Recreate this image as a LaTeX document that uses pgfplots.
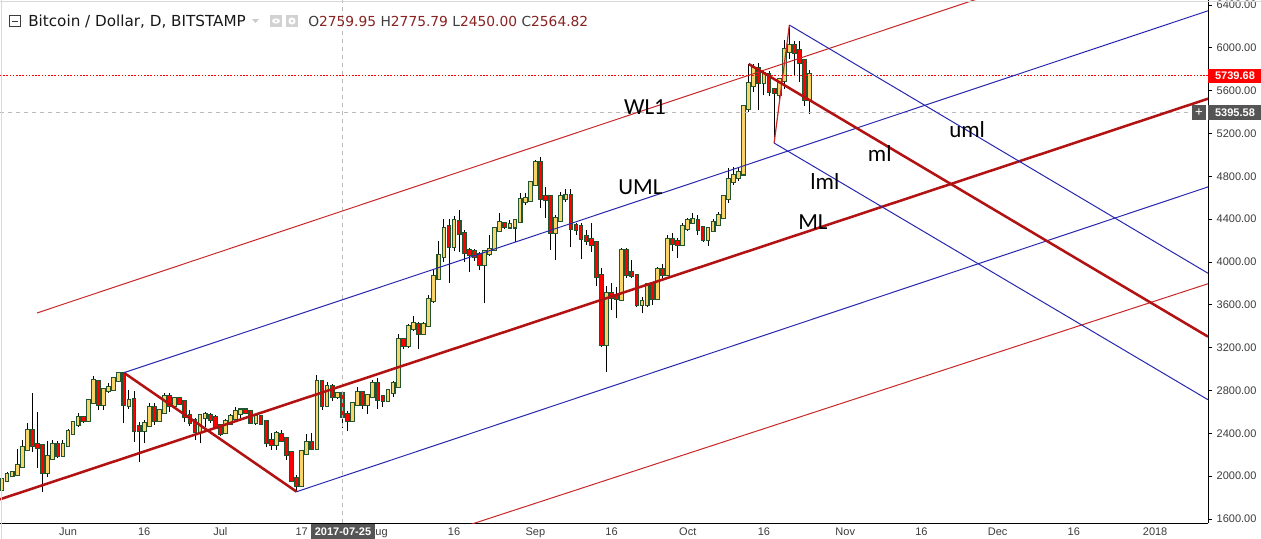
\documentclass[border=0pt]{standalone}
\usepackage{fontspec}
\usepackage{pgfplots}
\usepackage{pgfplotstable}
\pgfplotsset{compat=1.18}
\setmainfont{Liberation Sans}
\newfontfamily\tvfont{DejaVu Sans}
\newfontfamily\lblfont{Liberation Sans}
\newfontfamily\notefont{Carlito}
\definecolor{cup}{RGB}{248,212,105}
\definecolor{cdn}{RGB}{255,0,0}
\definecolor{cedge}{RGB}{34,84,48}
\definecolor{pfred}{RGB}{178,18,18}
\definecolor{pfthin}{RGB}{200,40,40}
\definecolor{pfblue}{RGB}{40,40,175}
\definecolor{txtgray}{RGB}{60,60,60}
\definecolor{ohlcred}{RGB}{139,35,35}
\definecolor{boxgray}{RGB}{85,85,85}
\definecolor{framegray}{RGB}{216,216,220}

\pgfplotstableread{
d o h l c
-13 1886 1985 1870 1964
-12 1964 2040 1950 2011
-11 2011 2040 1990 2025
-10 2020 2251 2000 2095
-9 2095 2338 2080 2260
-8 2260 2494 2250 2422
-4 2042 2330 1990 2176
-3 2176 2340 2150 2291
-1 2204 2335 2190 2291
0 2291 2440 2280 2406
1 2406 2505 2390 2494
2 2494 2593 2462 2537
4 2530 2710 2520 2696
5 2696 2936 2680 2883
7 2680 2820 2618 2805
8 2805 2867 2780 2820
9 2820 2915 2810 2905
10 2905 2970 2890 2954
12 2671 2805 2630 2702
15 2431 2520 2313 2484
16 2484 2680 2470 2634
18 2525 2620 2510 2602
19 2602 2780 2590 2736
21 2665 2740 2630 2718
26 2422 2580 2307 2562
27 2555 2602 2462 2572
31 2412 2530 2390 2500
32 2500 2580 2480 2550
33 2550 2643 2540 2596
34 2596 2620 2540 2610
37 2505 2565 2480 2550
41 2304 2420 2245 2394
46 1918 2240 1900 2223
47 2223 2394 2200 2307
49 2269 2945 2260 2873
51 2671 2883 2650 2830
53 2749 2790 2720 2760
56 2525 2690 2510 2674
57 2674 2830 2660 2774
59 2680 2760 2580 2749
60 2749 2900 2730 2861
63 2711 2810 2700 2789
64 2789 2890 2740 2861
65 2848 3330 2840 3266
67 3225 3420 3200 3390
68 3390 3496 3360 3418
70 3343 3440 3320 3411
71 3411 3690 3390 3645
72 3645 3931 3620 3856
73 3856 4196 3840 4056
74 4056 4398 4000 4305
76 4149 4430 4100 4376
82 3987 4110 3614 4087
83 4087 4250 4060 4111
84 4127 4330 4110 4305
85 4305 4454 4290 4361
87 4335 4392 4320 4345
88 4335 4400 4190 4383
89 4383 4647 4360 4572
90 4570 4640 4530 4582
91 4579 4750 4560 4734
92 4734 4952 4720 4921
96 4283 4440 4018 4398
97 4398 4656 4380 4604
98 4604 4678 4560 4615
106 3234 3780 2975 3698
109 3660 4127 3650 4096
113 3614 3676 3520 3624
114 3614 3800 3580 3779
116 3670 3950 3650 3925
118 3888 4252 3870 4206
121 4168 4363 4150 4324
122 4324 4410 4290 4377
123 4377 4455 4360 4390
126 4221 4330 4150 4305
127 4305 4400 4290 4361
128 4361 4470 4340 4424
129 4424 4620 4400 4604
130 4604 4875 4550 4760
131 4760 4890 4720 4800
132 4800 4880 4760 4830
133 4830 5450 4810 5444
134 5444 5850 5400 5659
135 5659 5850 5590 5799
137 5684 5790 5560 5756
140 5575 5720 5510 5693
141 5706 6070 5620 5974
142 5974 6190 5900 6017
146 5528 5790 5380 5739.68
}\upc

\pgfplotstableread{
d o h l c
-7 2422 2774 2229 2297
-6 2292 2602 2073 2280
-5 2282 2295 1855 2042
-2 2291 2330 2170 2204
3 2537 2560 2500 2525
6 2877 2895 2618 2680
11 2954 2966 2494 2680
13 2711 2800 2322 2437
14 2453 2510 2136 2431
17 2634 2680 2478 2525
20 2736 2780 2600 2665
22 2718 2740 2670 2687
23 2687 2700 2509 2562
24 2562 2618 2470 2509
25 2509 2540 2338 2422
28 2560 2590 2500 2540
29 2540 2571 2447 2462
30 2462 2480 2375 2409
35 2610 2625 2580 2600
36 2596 2610 2490 2509
38 2550 2570 2490 2503
39 2503 2520 2270 2322
40 2329 2400 2245 2307
42 2384 2431 2320 2344
43 2344 2360 2151 2213
44 2213 2230 1950 1970
45 1970 2010 1850 1918
48 2307 2406 2240 2269
50 2873 2900 2620 2671
52 2830 2860 2700 2749
54 2759.95 2775.79 2450.00 2564.82
55 2565 2610 2420 2525
58 2774 2800 2630 2680
61 2861 2920 2630 2727
62 2733 2760 2650 2711
66 3266 3290 3190 3225
69 3411 3440 3184 3343
75 4323 4400 3807 4149
77 4367 4485 4096 4274
78 4258 4300 4003 4096
79 4096 4130 3909 4080
80 4090 4120 4010 4056
81 4065 4090 3925 3987
86 4350 4370 4310 4338
93 4921 4983 4500 4604
94 4604 4703 4407 4592
95 4600 4610 4112 4283
99 4610 4678 4137 4323
100 4336 4360 4250 4314
101 4323 4360 4025 4230
102 4230 4300 4160 4211
103 4205 4360 4096 4174
104 4174 4180 3780 3869
105 3869 3940 3210 3234
107 3698 3800 3550 3676
108 3676 3770 3474 3665
110 4096 4127 3850 3894
111 3894 4020 3850 3878
112 3869 3890 3580 3614
115 3779 3790 3600 3670
117 3925 3980 3850 3888
119 4206 4270 4100 4181
120 4187 4220 4034 4168
124 4383 4440 4250 4315
125 4315 4340 4190 4221
136 5799 5860 5420 5684
138 5746 5780 5550 5600
139 5600 5620 5111 5590
143 6017 6067 5740 5964
144 5964 6067 5680 5871
145 5871 5900 5460 5528
}\dnc

\pgfplotsset{
  wickbar/.style={draw=none, mark=none, forget plot,
    error bars/.cd, y dir=plus, y explicit, error mark=none,
    error bar style={draw=black, line width=0.75pt, solid}},
  bodybar/.style={draw=none, mark=none, forget plot,
    error bars/.cd, y dir=plus, y explicit, error mark=none,
    error bar style={draw=#1, line width=3.6pt, line cap=rect, solid}},
  fillbar/.style={draw=none, mark=none, forget plot,
    error bars/.cd, y dir=plus, y explicit, error mark=none,
    error bar style={draw=#1, line width=2.0pt, line cap=rect, solid}},
}

\begin{document}
\begin{tikzpicture}
\fill[white] (0,0) rectangle (945.75pt,-404.25pt);
\path[use as bounding box] (0,0) rectangle (945.75pt,-404.25pt);
\begin{axis}[
  at={(0pt,0pt)}, anchor=north west,
  scale only axis, width=906pt, height=392.25pt,
  xmin=-13.386, xmax=224.41, ymin=1562.7, ymax=6446.7,
  axis x line*=bottom, axis y line*=right,
  axis line style={black, line width=0.75pt},
  tick align=outside, major tick length=3pt,
  xtick={0,15,30,46,61,76,92,107,122,137,153,168,183,198,214},
  xticklabels={Jun,16,Jul,17,Aug,16,Sep,16,Oct,16,Nov,16,Dec,16,2018},
  x tick style={draw=none},
  ytick={1600,2000,2400,2800,3200,3600,4000,4400,4800,5200,5600,6000,6400},
  y tick style={black, line width=0.75pt},
  /pgf/number format/.cd, fixed, fixed zerofill, precision=2, 1000 sep={}, assume math mode=true,
  /pgfplots/.cd,
  tick label style={font=\lblfont\fontsize{8.25pt}{9pt}\selectfont, text=txtgray},
  yticklabel style={anchor=west, xshift=0pt},
  xticklabel style={anchor=north, yshift=3.2pt},
  clip=true,
]
% wicks
\addplot[wickbar] table[x=d, y=l, y error expr=\thisrow{h}-\thisrow{l}] \upc;
\addplot[wickbar] table[x=d, y=l, y error expr=\thisrow{h}-\thisrow{l}] \dnc;
% body outlines
\addplot[bodybar=cedge] table[x=d, y=o, y error expr=\thisrow{c}-\thisrow{o}] \upc;
\addplot[bodybar=cedge] table[x=d, y=c, y error expr=\thisrow{o}-\thisrow{c}] \dnc;
% body fills
\addplot[fillbar=cup] table[x=d, y=o, y error expr=\thisrow{c}-\thisrow{o}] \upc;
\addplot[fillbar=cdn] table[x=d, y=c, y error expr=\thisrow{o}-\thisrow{c}] \dnc;

% crosshair and price lines
\addplot[draw=gray!55, line width=0.75pt, dash pattern=on 3pt off 3pt] coordinates {(54,1562.7) (54,6446.7)};
\addplot[draw=gray!55, line width=0.75pt, dash pattern=on 3pt off 3pt] coordinates {(-13.386,5395.58) (224.41,5395.58)};
\addplot[draw=red, line width=0.75pt, dash pattern=on 1.2pt off 1.2pt] coordinates {(-13.386,5739.68) (224.41,5739.68)};

% first pitchfork (rising)
\addplot[draw=pfred, line width=1.9pt] coordinates {(11,2966) (45,1855)};
\addplot[draw=pfred, line width=1.9pt] coordinates {(-13.386,1784) (224.41,5525)};
\addplot[draw=pfblue, line width=0.75pt] coordinates {(11,2966) (224.41,6346)};
\addplot[draw=pfblue, line width=0.75pt] coordinates {(45,1855) (224.41,4701)};
\addplot[draw=pfthin, line width=0.75pt] coordinates {(-6.10,3524) (224.41,7176)};
\addplot[draw=pfthin, line width=0.75pt] coordinates {(62,1282) (224.41,3797)};

% second pitchfork (falling)
\addplot[draw=pfthin, line width=0.9pt] coordinates {(139,5111) (142,6213)};
\addplot[draw=pfred, line width=1.9pt] coordinates {(134,5849) (224.41,3303)};
\addplot[draw=pfblue, line width=0.75pt] coordinates {(142,6213) (224.41,3895)};
\addplot[draw=pfblue, line width=0.75pt] coordinates {(139,5111) (224.41,2714)};

% line names
\node[font=\notefont\fontsize{17.25pt}{18pt}\selectfont, inner sep=0] at (axis cs:113.58,5443) {WL1};
\node[font=\notefont\fontsize{17.25pt}{18pt}\selectfont, inner sep=0] at (axis cs:112.7,4700) {UML};
\node[font=\notefont\fontsize{17.25pt}{18pt}\selectfont, inner sep=0] at (axis cs:146.65,4374) {ML};
\node[font=\notefont\fontsize{17.25pt}{18pt}\selectfont, inner sep=0] at (axis cs:159.8,5013) {ml};
\node[font=\notefont\fontsize{17.25pt}{18pt}\selectfont, inner sep=0] at (axis cs:149.0,4752) {lml};
\node[font=\notefont\fontsize{17.25pt}{18pt}\selectfont, inner sep=0] at (axis cs:177.0,5233) {uml};
\end{axis}

\begin{scope}[x=0.75pt, y=-0.75pt]
  % frame
  \draw[framegray, line width=0.75pt] (0,1) -- (1261,1);
  \draw[framegray, line width=0.75pt] (1,0) -- (1,539);
  % title row
  \draw[txtgray, line width=0.75pt] (9,15.5) rectangle (20,26.5);
  \draw[txtgray, line width=0.75pt] (11.5,21) -- (17.5,21);
  \node[anchor=base west, inner sep=0, font=\tvfont\fontsize{11.4pt}{13pt}\selectfont, text={rgb,255:red,25;green,25;blue,25}] at (28,26.5) {Bitcoin / Dollar, D, BITSTAMP};
  \fill[gray!40] (252,19) -- (259,19) -- (255.5,23) -- cycle;
  \fill[gray!35] (270,15) rectangle (282,27);
  \fill[white] (276,21) ellipse (4 and 2.6);
  \fill[gray!35] (276,21) circle (1.4);
  \fill[gray!35] (286,15) rectangle (298,27);
  \fill[white] (292,21) circle (3.6);
  \fill[gray!35] (292,21) circle (1.5);
  \node[anchor=base west, inner sep=0, font=\tvfont\fontsize{10.35pt}{12pt}\selectfont] at (308,26.5)
    {\textcolor{txtgray}{O}\textcolor{ohlcred}{2759.95} \textcolor{txtgray}{H}\textcolor{ohlcred}{2775.79} \textcolor{txtgray}{L}\textcolor{ohlcred}{2450.00} \textcolor{txtgray}{C}\textcolor{ohlcred}{2564.82}};
  % price tags
  \fill[red] (1208,68.5) rectangle (1261,83);
  \node[white, inner sep=0, font=\lblfont\bfseries\fontsize{8.25pt}{9pt}\selectfont] at (1235,75.7) {5739.68};
  \fill[boxgray] (1208,105) rectangle (1261,120);
  \node[white, inner sep=0, font=\lblfont\bfseries\fontsize{8.25pt}{9pt}\selectfont] at (1235,112.6) {5395.58};
  \fill[boxgray] (1192,105) rectangle (1206,120);
  \node[white, inner sep=0, font=\lblfont\fontsize{10pt}{10pt}\selectfont] at (1199,112.3) {+};
  % date tag (covers the first letter of "Aug", as in the chart)
  \fill[boxgray] (311,524) rectangle (375,539);
  \node[white, inner sep=0, font=\lblfont\bfseries\fontsize{8.25pt}{9pt}\selectfont] at (343,531.5) {2017-07-25};
\end{scope}
\end{tikzpicture}
\end{document}
